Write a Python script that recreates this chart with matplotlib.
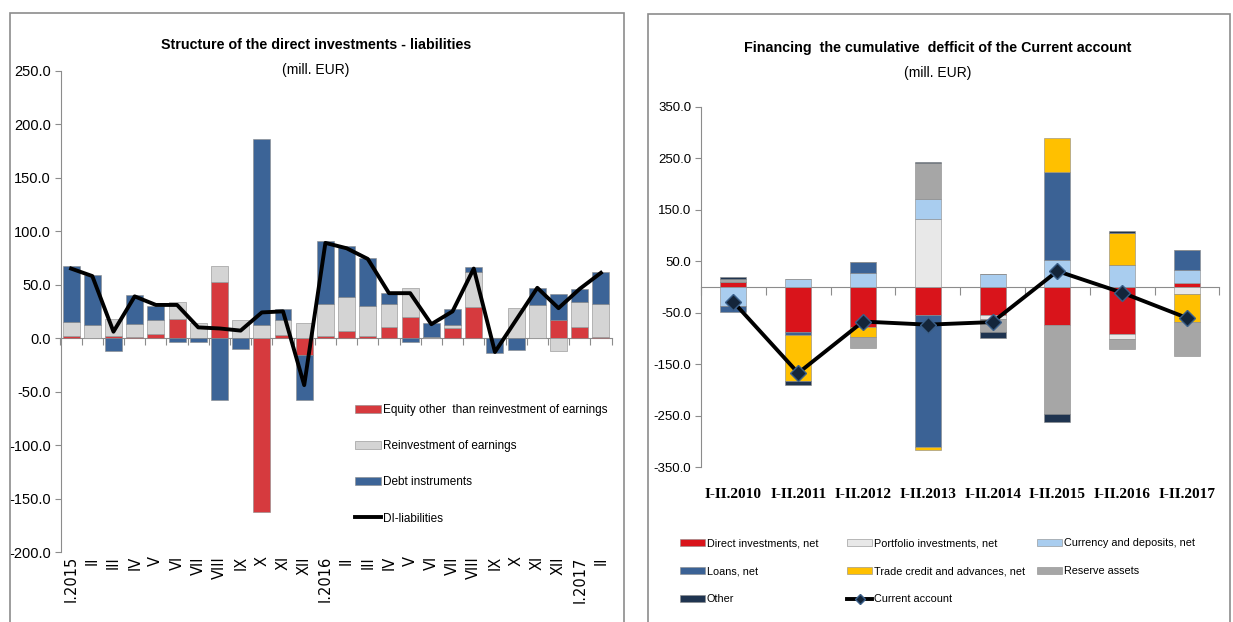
import matplotlib.pyplot as plt
from matplotlib.patches import Rectangle
from matplotlib.lines import Line2D
import numpy as np

plt.rcParams['font.family'] = ['Liberation Sans', 'DejaVu Sans']

# left chart: direct investments - liabilities, I.2015 - II.2017
months = ['I.2015', 'II', 'III', 'IV', 'V', 'VI', 'VII', 'VIII', 'IX', 'X', 'XI', 'XII',
          'I.2016', 'II', 'III', 'IV', 'V', 'VI', 'VII', 'VIII', 'IX', 'X', 'XI', 'XII',
          'I.2017', 'II']
equity = [2, 0, 2, 1, 4, 18, 0, 52, 0, -163, 3, -16,
          2, 7, 2, 10, 20, 0, 9, 29, 0, 0, 0, 17,
          10, 1]
reinvest = [13, 12, 16, 12, 13, 16, 14, 15, 17, 12, 14, 14,
            30, 31, 28, 22, 27, 1, 3, 33, 0, 28, 31, -12,
            24, 31]
debt = [52, 47, -12, 27, 13, -4, -4, -58, -10, 174, 10, -42,
        59, 48, 45, 10, -4, 13, 15, 4, -14, -11, 16, 24,
        12, 30]
di_liab = [65, 58, 6, 39, 31, 31, 10, 9, 7, 24, 25, -44,
           89, 84, 74, 42, 42, 13, 25, 65, -13, 17, 47, 28,
           46, 61]

# right chart: financing of cumulative current account deficit
periods = ['I-II.2010', 'I-II.2011', 'I-II.2012', 'I-II.2013', 'I-II.2014',
           'I-II.2015', 'I-II.2016', 'I-II.2017']
direct_inv = [10, -88, -78, -55, -55, -73, -91, 8]
portfolio = [0, 0, 0, 133, -8, 0, -10, -13]
currency = [-36, 16, 27, 38, 26, 52, 42, 25]
loans = [-13, -5, 22, -256, 0, 172, 0, 39]
trade = [0, -90, -19, -6, 0, 65, 62, -55]
reserve = [5, 0, -21, 69, -25, -174, -20, -65]
other = [5, -7, 0, 2, -11, -15, 5, 0]
cur_acc = [-29, -167, -67, -73, -68, 31, -11, -60]


def stack(ax, x, series, colors, width):
    pos = np.zeros(len(x))
    neg = np.zeros(len(x))
    for vals, c in zip(series, colors):
        v = np.array(vals, dtype=float)
        bottom = np.where(v >= 0, pos, neg)
        ax.bar(x, v, width, bottom=bottom, color=c, edgecolor='#8a8a8a', linewidth=0.4, zorder=2)
        pos = pos + np.where(v >= 0, v, 0)
        neg = neg + np.where(v < 0, v, 0)


fig = plt.figure(figsize=(12.33, 6.22), dpi=100)
W, H = 1233, 622

# panel frames
fig.patches.append(Rectangle((10 / W, -0.01), 614 / W, 1 - 13 / H + 0.01, transform=fig.transFigure,
                             fill=False, edgecolor='#8c8c8c', linewidth=1.2))
fig.patches.append(Rectangle((648 / W, -0.01), 582 / W, 1 - 14 / H + 0.01, transform=fig.transFigure,
                             fill=False, edgecolor='#8c8c8c', linewidth=1.2))

# ---------------- left chart ----------------
ax = fig.add_axes([60.5 / W, 1 - 552 / H, 551 / W, 481.3 / H])
x = np.arange(len(months))
c_left = ['#d63a3e', '#d4d4d4', '#3c6497']
stack(ax, x, [equity, reinvest, debt], c_left, 0.8)
ax.plot(x, di_liab, color='black', lw=2.8, zorder=3)
ax.set_xlim(-0.5, len(months) - 0.5)
ax.set_ylim(-200, 250)
ax.set_yticks(np.arange(-200, 251, 50))
ax.set_yticklabels(['%.1f' % v for v in np.arange(-200, 251, 50)], fontsize=10.5)
ax.set_xticks(x)
ax.set_xticklabels(months, rotation=90, fontsize=10.5, family='DejaVu Sans')
ax.tick_params(axis='x', length=0, pad=3)
ax.tick_params(axis='y', length=4, color='#8c8c8c', pad=3)
for s in ['top', 'right', 'bottom']:
    ax.spines[s].set_visible(False)
ax.spines['left'].set_color('#8c8c8c')
sec = ax.secondary_xaxis(0, transform=ax.transData)
sec.set_xticks(np.arange(-0.5, len(months), 1))
sec.set_xticklabels([])
sec.tick_params(length=5, color='#8c8c8c')
sec.spines['bottom'].set_color('#8c8c8c')
ax.patch.set_alpha(0)

h_left = [Rectangle((0, 0), 1, 1, facecolor=c, edgecolor='#8a8a8a', linewidth=0.4) for c in c_left]
h_left.append(Line2D([0], [0], color='black', lw=2.8))
fig.legend(h_left, ['Equity other  than reinvestment of earnings', 'Reinvestment of earnings',
                    'Debt instruments', 'DI-liabilities'],
           loc='upper left', bbox_to_anchor=(349 / W, 1 - 398 / H), frameon=False, fontsize=8.5,
           handlelength=2.2, handleheight=0.7, handletextpad=0.15, labelspacing=2.05,
           borderpad=0)

fig.text(316 / W, 1 - 45 / H, 'Structure of the direct investments - liabilities', ha='center', va='center',
         fontsize=10.3, fontweight='bold')
fig.text(316 / W, 1 - 70 / H, '(mill. EUR)', ha='center', va='center', fontsize=10)

# ---------------- right chart ----------------
ax2 = fig.add_axes([701 / W, 1 - 467.3 / H, 518.4 / W, 360.5 / H])
xr = np.arange(len(periods))
c_right = ['#d9141b', '#e8e8e8', '#a9cdef', '#3b6295', '#ffc000', '#a6a6a6', '#1f3450']
stack(ax2, xr, [direct_inv, portfolio, currency, loans, trade, reserve, other], c_right, 0.4)
ax2.plot(xr, cur_acc, color='black', lw=2.8, marker='D', markersize=8,
         markerfacecolor='#14253a', markeredgecolor='#3a5f8a', zorder=4)
ax2.set_xlim(-0.5, len(periods) - 0.5)
ax2.set_ylim(-350, 350)
yt = np.arange(-350, 351, 100)
ax2.set_yticks(yt)
ax2.set_yticklabels(['%.1f' % v for v in yt], fontsize=9.5)
ax2.set_xticks(xr)
ax2.set_xticklabels(periods, fontsize=11, fontweight='bold', family=['Liberation Serif', 'DejaVu Serif'])
ax2.tick_params(axis='x', length=0, pad=15)
ax2.tick_params(axis='y', length=4, color='#8c8c8c', pad=3)
for s in ['top', 'right', 'bottom']:
    ax2.spines[s].set_visible(False)
ax2.spines['left'].set_color('#8c8c8c')
sec2 = ax2.secondary_xaxis(0, transform=ax2.transData)
sec2.set_xticks(np.arange(-0.5, len(periods), 1))
sec2.set_xticklabels([])
sec2.tick_params(length=6, color='#8c8c8c')
sec2.spines['bottom'].set_color('#8c8c8c')
ax2.patch.set_alpha(0)

names = ['Direct investments, net', 'Portfolio investments, net', 'Currency and deposits, net',
         'Loans, net', 'Trade credit and advances, net', 'Reserve assets', 'Other']
h_r = [Rectangle((0, 0), 1, 1, facecolor=c, edgecolor='#8a8a8a', linewidth=0.4) for c in c_right]
h_ca = Line2D([0], [0], color='black', lw=2.8, marker='D', markersize=5,
              markerfacecolor='#14253a', markeredgecolor='#3a5f8a')
allh = h_r + [h_ca]
alln = names + ['Current account']
# three legend columns, row-major as in the reference
for col, xpos in zip([[0, 3, 6], [1, 4, 7], [2, 5]], [675, 842, 1032]):
    fig.legend([allh[i] for i in col], [alln[i] for i in col],
               loc='upper left', bbox_to_anchor=(xpos / W, 1 - 533 / H), frameon=False, fontsize=7.8,
               handlelength=2.3, handleheight=0.6, handletextpad=0.15, labelspacing=1.65, borderpad=0)

fig.text(938 / W, 1 - 48 / H, 'Financing  the cumulative  defficit of the Current account', ha='center',
         va='center', fontsize=10.3, fontweight='bold')
fig.text(938 / W, 1 - 73 / H, '(mill. EUR)', ha='center', va='center', fontsize=10)

fig.savefig('out.png', dpi=100)
